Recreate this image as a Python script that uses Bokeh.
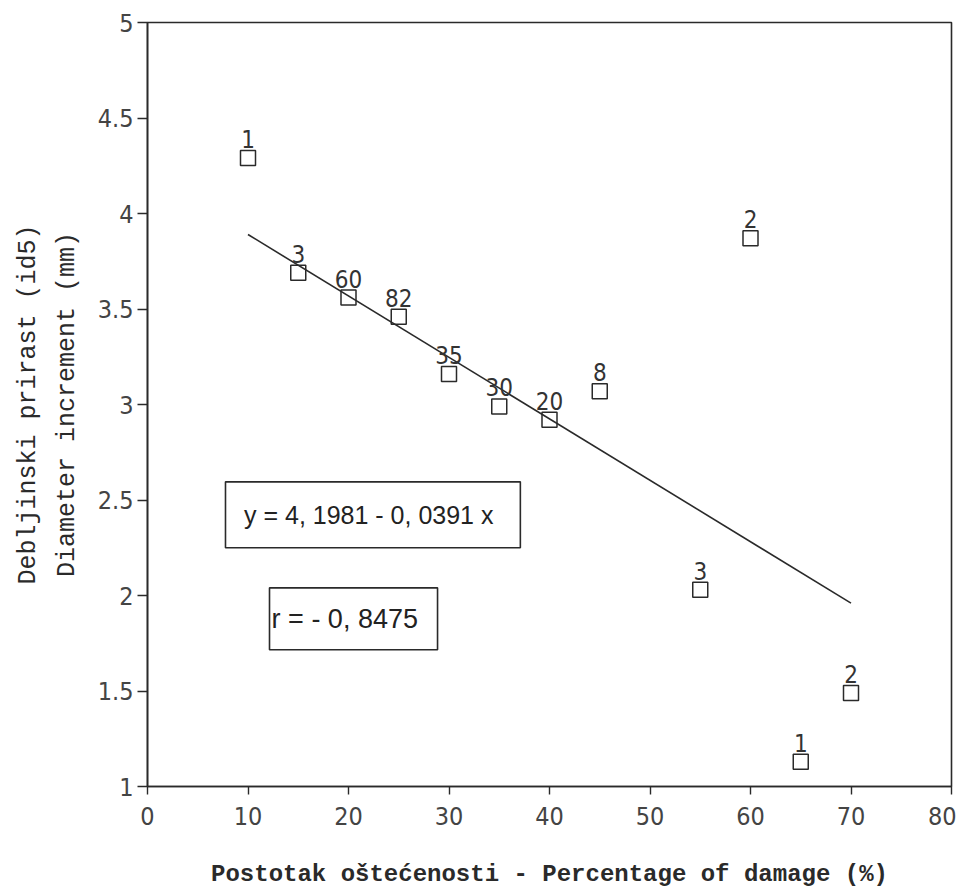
from bokeh.plotting import figure
from bokeh.models import Range1d, FixedTicker, Label, LabelSet, BoxAnnotation, ColumnDataSource
from bokeh.core.properties import value
from bokeh.embed import file_html
from bokeh.resources import INLINE

# ---- data ----
damage_pct = [10, 15, 20, 25, 30, 35, 40, 45, 55, 60, 65, 70]
diam_incr = [4.29, 3.69, 3.56, 3.46, 3.16, 2.99, 2.92, 3.07, 2.03, 3.87, 1.13, 1.49]
n_trees = ["1", "3", "60", "82", "35", "30", "20", "8", "3", "2", "1", "2"]

fit_x = [10, 70]
fit_y = [3.89, 1.96]

x_ticks = [0, 10, 20, 30, 40, 50, 60, 70, 80]
y_ticks = [1, 1.5, 2, 2.5, 3, 3.5, 4, 4.5, 5]
y_tick_labels = ["1", "1.5", "2", "2.5", "3", "3.5", "4", "4.5", "5"]

eq_text = "y =  4, 1981 - 0, 0391 x"
r_text = "r = - 0, 8475"
x_title = "Postotak oštećenosti - Percentage of damage (%)"
y_title = "Debljinski prirast (id5)\nDiameter increment (mm)"

INK = "#2a2a2a"
TICK_FONT = "'DejaVu Sans Condensed', 'Liberation Sans'"
MONO = "Liberation Mono"
SANS = "'DejaVu Sans Condensed', 'Liberation Sans'"
BOX_FONT = "Liberation Sans"

p = figure(width=956, height=890, output_backend="svg", toolbar_location=None,
           x_range=Range1d(0, 80), y_range=Range1d(1, 5),
           min_border_left=147, min_border_right=5, min_border_top=22, min_border_bottom=103)
p.grid.visible = False
p.background_fill_color = "white"
p.border_fill_color = "white"
p.outline_line_color = INK
p.outline_line_width = 1.6

# axes
p.xaxis.ticker = FixedTicker(ticks=x_ticks)
p.yaxis.ticker = FixedTicker(ticks=y_ticks)
p.yaxis.major_label_overrides = {t: l for t, l in zip(y_ticks, y_tick_labels)}
for ax in (p.xaxis[0], p.yaxis[0]):
    ax.axis_line_color = INK
    ax.axis_line_width = 1.6
    ax.major_tick_line_color = INK
    ax.major_tick_line_width = 1.4
    ax.major_tick_in = 0
    ax.minor_tick_line_color = None
    ax.major_label_text_font = TICK_FONT
    ax.major_label_text_font_size = "25px"
    ax.major_label_text_color = "#444444"
p.xaxis.major_tick_out = 8
p.yaxis.major_tick_out = 10
p.xaxis.major_label_standoff = 12
p.yaxis.major_label_standoff = 4

p.xaxis.axis_label = x_title
p.xaxis.axis_label_text_font = MONO
p.xaxis.axis_label_text_font_style = "bold"
p.xaxis.axis_label_text_font_size = "24px"
p.xaxis.axis_label_text_color = INK
p.xaxis.axis_label_standoff = 33

p.yaxis.axis_label = y_title
p.yaxis.axis_label_text_font = MONO
p.yaxis.axis_label_text_font_style = "normal"
p.yaxis.axis_label_text_font_size = "25px"
p.yaxis.axis_label_text_color = INK
p.yaxis.axis_label_text_line_height = 1.35
p.yaxis.axis_label_standoff = 13

# regression line
p.line(fit_x, fit_y, line_color=INK, line_width=1.6)

# points
src = ColumnDataSource(dict(x=damage_pct, y=diam_incr, n=n_trees))
p.scatter("x", "y", source=src, marker="square", size=15, fill_color=None,
          line_color=INK, line_width=1.5)
p.add_layout(LabelSet(x="x", y="y", text="n", source=src, text_align="center",
                      text_baseline="alphabetic", y_offset=10, text_font=value(SANS),
                      text_font_size=value("24px"), text_color=value("#333333")))

# annotation boxes
p.add_layout(BoxAnnotation(left=7.76, right=37.1, bottom=2.25, top=2.595,
                           fill_alpha=0, line_color=INK, line_alpha=1, line_width=1.6))
p.add_layout(Label(x=9.6, y=2.42, text=eq_text, text_align="left", text_baseline="middle",
                   text_font=BOX_FONT, text_font_size="25px", text_color="#222222"))
p.add_layout(BoxAnnotation(left=12.14, right=28.86, bottom=1.716, top=2.04,
                           fill_alpha=0, line_color=INK, line_alpha=1, line_width=1.6))
p.add_layout(Label(x=12.35, y=1.878, text=r_text, text_align="left", text_baseline="middle",
                   text_font=BOX_FONT, text_font_size="27px", text_color="#222222"))

open("out.html", "w").write(file_html(p, INLINE))
